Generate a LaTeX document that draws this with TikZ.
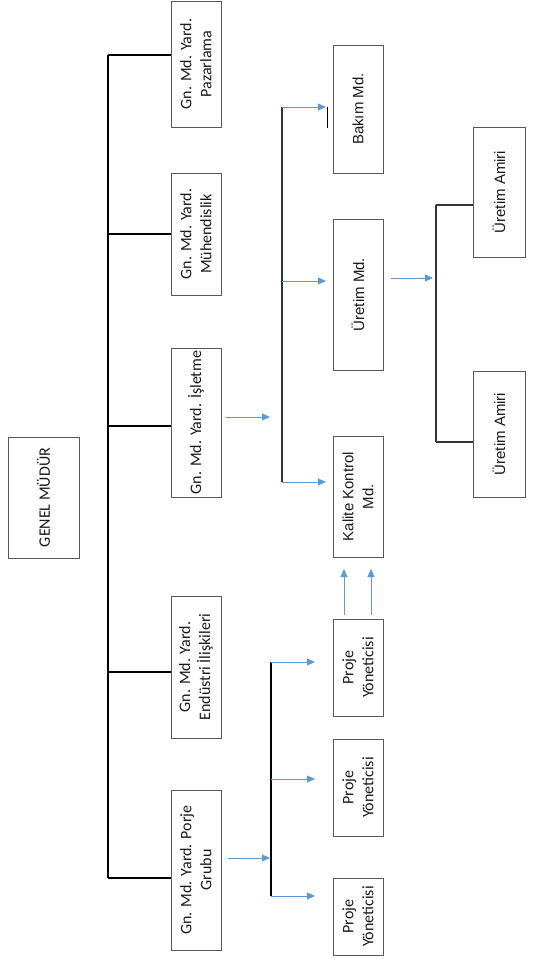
\documentclass[tikz,border=0pt]{standalone}
\usepackage{fontspec}
\setmainfont{Carlito}
\newfontfamily\arialfont{Liberation Sans}
\usetikzlibrary{arrows.meta}

\definecolor{arrowblue}{RGB}{91,155,213}

% boxes are turned a quarter: their north side is the left side on the page
\tikzset{
  box/.style={draw=black!65, line width=0.9pt, rotate=90, align=center,
    minimum height=50pt, inner sep=0pt, text=black!90,
    font=\fontsize{16pt}{20pt}\selectfont},
  abox/.style={box, font=\arialfont\fontsize{15pt}{20pt}\selectfont},
  link/.style={line width=1.1pt, black},
  flow/.style={line width=0.9pt, arrowblue, -{Triangle[length=8pt,width=7pt]}}
}

\begin{document}
\begin{tikzpicture}[x=1pt,y=-1pt]
            \useasboundingbox (0,0) rectangle (534,959);

            % top level
            \node[box, minimum height=71pt, minimum width=121pt] (genel) at (43.5,497.5) {GENEL MÜDÜR};

            \node[box, minimum width=126pt] (pazar) at (196,64) {Gn. Md. Yard.\\Pazarlama};
            \node[box, minimum width=122pt] (muhen) at (196,234) {Gn. Md. Yard.\\Mühendislik};
            \node[box, minimum width=149pt] (islet) at (196,422.5) {Gn. Md. Yard. İşletme};
            \node[box, minimum width=142pt] (endus) at (196,667) {Gn. Md. Yard.\\Endüstri İlişkileri};
            \node[box, minimum width=160pt] (porje) at (196,870) {Gn. Md. Yard. Porje\\Grubu};

            \coordinate (trunktop) at (108,55);
            \coordinate (trunkbot) at (108,878);
            \draw[link] (trunktop) -- (trunkbot);
            \draw[link] (trunktop) -- (pazar.north |- trunktop);
            \coordinate (tmuhen) at (108,234);
            \draw[link] (tmuhen) -- (muhen.north |- tmuhen);
            \coordinate (tislet) at (108,426);
            \draw[link] (tislet) -- (islet.north |- tislet);
            \coordinate (tendus) at (108,672);
            \draw[link] (tendus) -- (endus.north |- tendus);
            \draw[link] (trunkbot) -- (porje.north |- trunkbot);

            % isletme group
            \node[abox, minimum width=128pt] (bakim) at (358,109) {Bakım Md.};
            \node[abox, minimum width=151pt] (uretim) at (358,294.5) {Üretim Md.};
            \node[abox, minimum width=121pt] (kalite) at (358,496.5) {Kalite Kontrol\\Md.};

            \coordinate (istop) at (282,107);
            \coordinate (isbot) at (282,482);
            \coordinate (isin) at (270,417);
            \coordinate (ismid) at (282,281);
            \draw[link, black!80] (istop) -- (isbot);
            \draw[flow] (islet.south |- isin) ++(5,0) -- (isin);
            \draw[flow] (istop) -- ++(44,0) coordinate (bakimtip);
            \draw[link, line width=0.9pt] (bakimtip) ++(1,0) -- ++(0,21);
            \draw[flow] (ismid) -- ++(44,0);
            \draw[flow] (isbot) -- ++(44,0);

            % proje group
            \node[box, minimum width=97pt] (proje1) at (358,667.5) {Proje\\Yöneticisi};
            \node[box, minimum width=97pt] (proje2) at (358,787.5) {Proje\\Yöneticisi};
            \node[box, minimum width=77pt] (proje3) at (358,916.5) {Proje\\Yöneticisi};

            \coordinate (prtop) at (271,662);
            \coordinate (prmid) at (271,779);
            \coordinate (prbot) at (271,896);
            \coordinate (prin) at (270,858);
            \draw[link] (prtop) -- (prbot);
            \draw[flow] (porje.south |- prin) ++(7,0) -- (prin);
            \draw[flow] (prtop) -- ++(44,0);
            \draw[flow] (prmid) -- ++(44,0);
            \draw[flow] (prbot) -- ++(44,0);

            \draw[flow] (proje1.east -| 344,0) ++(0,-4) -- (344,569);
            \draw[flow] (proje1.east -| 371,0) ++(0,-4) -- (371,569);

            % uretim group
            \node[abox, minimum height=52pt, minimum width=130pt] (amiri1) at (499,192) {Üretim Amiri};
            \node[abox, minimum height=52pt, minimum width=126pt] (amiri2) at (499,434) {Üretim Amiri};

            \coordinate (urtop) at (436,205);
            \coordinate (urbot) at (436,442);
            \coordinate (urin) at (433,278);
            \draw[link, black!80] (urtop) -- (urbot);
            \draw[flow] (uretim.south |- urin) ++(8,0) -- (urin);
            \draw[link, black!80] (urtop) -- (amiri1.north |- urtop);
            \draw[link, black!80] (urbot) -- (amiri2.north |- urbot);
\end{tikzpicture}
\end{document}
